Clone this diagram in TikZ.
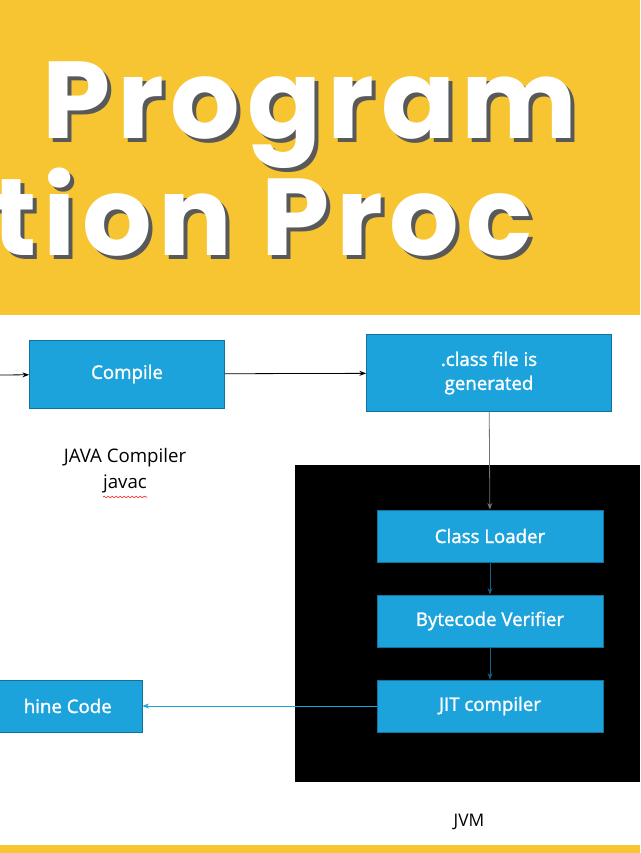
\documentclass[tikz,border=0pt]{standalone}
\usepackage{fontspec}
\setmainfont{Open Sans}
\newfontfamily\titlefont[LetterSpace=6]{Poppins}
\newfontfamily\boxfont[FakeBold=1.5]{Open Sans}
\usetikzlibrary{arrows.meta,decorations.pathmorphing}
\definecolor{ybg}{HTML}{F7C531}
\definecolor{bbox}{HTML}{1CA3DC}
\tikzset{
 blue box/.style={fill=bbox,draw=bbox!70!black,line width=0.6pt,text=white,font=\boxfont\fontsize{14}{18}\selectfont,align=center,inner sep=0pt},
 conn/.style={-{Stealth[length=5pt]},line width=0.6pt},
 ttl/.style={font=\titlefont\bfseries\fontsize{82}{84}\selectfont,inner sep=0pt}
}
\begin{document}
\begin{tikzpicture}[x=0.75pt,y=-0.75pt]
\useasboundingbox (0,0) rectangle (640,853);
\fill[white] (0,0) rectangle (640,853);
\fill[ybg] (0,0) rectangle (640,315);
\fill[ybg] (0,845) rectangle (640,853);
\begin{scope}
\clip (0,0) rectangle (640,315);
\node[ttl,text=black!65,anchor=base east] at (582,142) {Program};
\node[ttl,text=white,anchor=base east] (t1) at (578,138) {Program};
\node[ttl,text=black!65,anchor=base west] at (-4,259) {tion Proc};
\node[ttl,text=white,anchor=base west] (t2) at (-8,255) {tion Proc};
\end{scope}
\coordinate (start) at (0,375);
\node[blue box,minimum width=195*0.75pt,minimum height=68*0.75pt] (comp) at (127,374) {Compile};
\node[blue box,minimum width=245*0.75pt,minimum height=77*0.75pt] (cls) at (489,373) {.class file is\\generated};
\fill[black] (295,465) rectangle (640,782);
\node[blue box,minimum width=226*0.75pt,minimum height=52*0.75pt] (cl) at (490,536) {Class Loader};
\node[blue box,minimum width=226*0.75pt,minimum height=52*0.75pt] (bv) at (490,621) {Bytecode Verifier};
\node[blue box,minimum width=226*0.75pt,minimum height=52*0.75pt] (jit) at (490,706) {JIT compiler};
\node[blue box,minimum width=162*0.75pt,minimum height=52*0.75pt] (mc) at (61,706) {};
\node[text=white,font=\boxfont\fontsize{14}{18}\selectfont,anchor=east,inner sep=0pt] (mct) at (112,706) {hine Code};
\draw[conn] (start) -- (comp);
\draw[conn] (comp) -- (cls);
\draw[conn,black!55] (cls) -- (cl);
\draw[conn,bbox!60!black] (cl) -- (bv);
\draw[conn,bbox!60!black] (bv) -- (jit);
\draw[conn,bbox] (jit) -- (mc);
\node[font=\fontsize{14}{17}\selectfont] (jc) at (125,458) {JAVA Compiler};
\node[font=\fontsize{14}{17}\selectfont] (jv) at (125,484) {javac};
\draw[red,decorate,decoration={snake,amplitude=0.6pt,segment length=3pt},line width=0.4pt] (103,497) -- (147,497);
\node[font=\fontsize{13}{16}\selectfont] (jvm) at (469,822) {JVM};
\end{tikzpicture}
\end{document}
